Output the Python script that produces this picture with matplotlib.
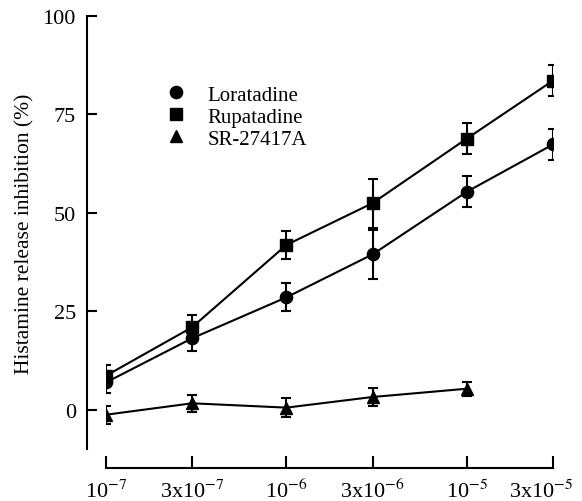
import matplotlib
matplotlib.use('Agg')
import matplotlib.pyplot as plt
import matplotlib.transforms as mtransforms
from matplotlib.lines import Line2D

plt.rcParams['font.family'] = ['Liberation Serif', 'DejaVu Serif']
plt.rcParams['mathtext.fontset'] = 'stix'

# molar concentrations (log axis)
conc = [1e-7, 3e-7, 1e-6, 3e-6, 1e-5, 3e-5]
conc_labels = [r'10$^{-7}$', r'3x10$^{-7}$', r'10$^{-6}$',
               r'3x10$^{-6}$', r'10$^{-5}$', r'3x10$^{-5}$']

lora = [7.0, 18.2, 28.6, 39.5, 55.4, 67.4]
lora_err = [2.8, 3.2, 3.6, 6.3, 4.0, 3.9]

rupa = [8.7, 21.0, 41.9, 52.5, 68.9, 83.6]
rupa_err = [2.7, 3.2, 3.6, 6.2, 4.0, 4.0]

sr_conc = conc[:5]
sr = [-1.2, 1.7, 0.6, 3.3, 5.4]
sr_err = [2.3, 2.1, 2.5, 2.2, 1.8]

yticks = [0, 25, 50, 75, 100]

fig = plt.figure(figsize=(5.82, 5.02), dpi=100)
ax = fig.add_axes([106/582, 52/502, 447/582, 433/502])

lw = 1.5
common = dict(color='k', lw=lw, elinewidth=lw, capsize=3.6, capthick=lw)
ax.errorbar(conc, lora, yerr=lora_err, marker='o', ms=8.8, **common)
ax.errorbar(conc, rupa, yerr=rupa_err, marker='s', ms=8.2, **common)
ax.errorbar(sr_conc, sr, yerr=sr_err, marker='^', ms=9.2, **common)

ax.set_xscale('log')
ax.set_xlim(1e-7, 3e-5)
ax.set_ylim(-9.9, 100)
ax.set_xticks(conc)
ax.set_xticklabels(conc_labels)
ax.minorticks_off()
ax.set_yticks(yticks)

for s in ['top', 'right']:
    ax.spines[s].set_visible(False)
for s in ['left', 'bottom']:
    ax.spines[s].set_position(('outward', 13.7))
    ax.spines[s].set_linewidth(lw)

ax.tick_params(axis='y', direction='in', length=7, width=lw, pad=8, labelsize=16)
ax.tick_params(axis='x', direction='in', length=8.6, width=lw, pad=8, labelsize=16)

# last label sits left of its tick so it stays inside the picture
last = ax.get_xticklabels()[-1]
last.set_transform(last.get_transform() +
                   mtransforms.ScaledTranslation(-12/100, 0, fig.dpi_scale_trans))

ax.set_ylabel('Histamine release inhibition (%)', fontsize=15.5, labelpad=6)

handles = [Line2D([], [], ls='none', marker='o', ms=8.8, color='k'),
           Line2D([], [], ls='none', marker='s', ms=8.2, color='k'),
           Line2D([], [], ls='none', marker='^', ms=9.2, color='k')]
ax.legend(handles, ['Loratadine', 'Rupatadine', 'SR-27417A'],
          loc='upper left', bbox_to_anchor=(166/582, 1 - 86/502),
          bbox_transform=fig.transFigure, frameon=False, fontsize=15,
          handlelength=1.0, handletextpad=1.0, labelspacing=0.12,
          borderpad=0, borderaxespad=0)

fig.savefig('out.png', dpi=100)
